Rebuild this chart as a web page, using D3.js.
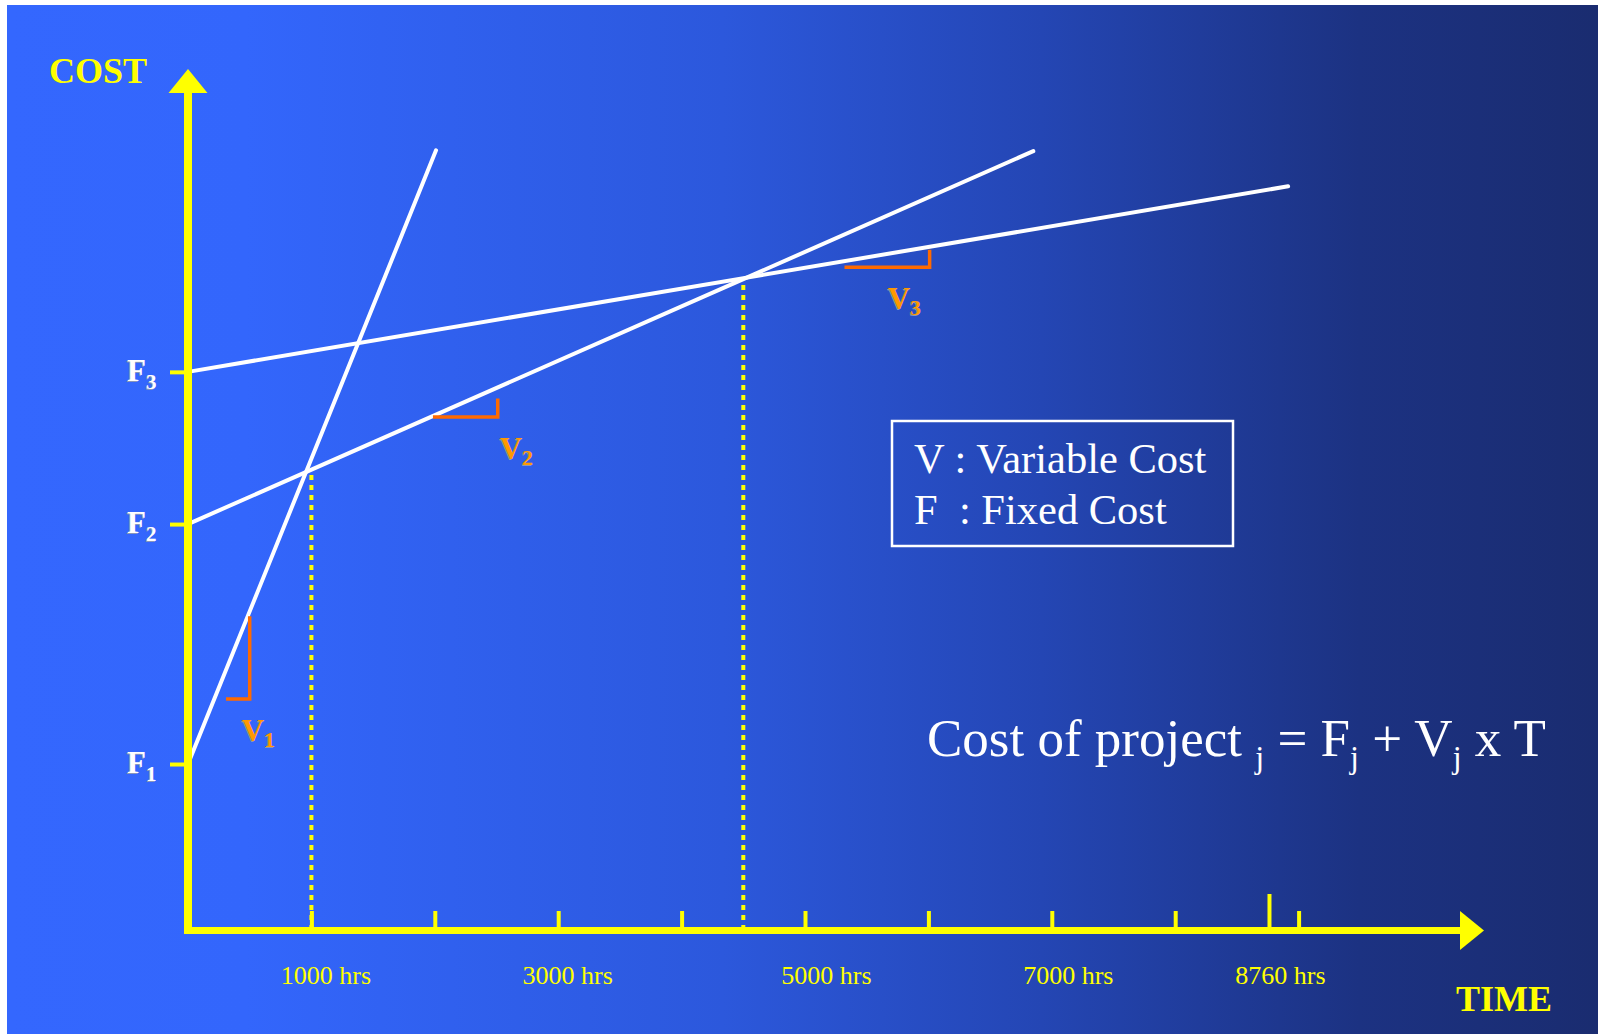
<!DOCTYPE html>
<html>
<head>
<meta charset="utf-8">
<script src="https://cdn.jsdelivr.net/npm/d3@7"></script>
<style>
  html, body { margin: 0; padding: 0; background: #ffffff; }
  svg text { font-family: "Liberation Serif", "Times New Roman", serif; white-space: pre; }
</style>
</head>
<body>
<script>
// fixed cost of each project (cost units) and variable cost (cost units per 1000 hrs)
const projects = ['1', '2', '3'];
const fixedCost = [19.3, 47.2, 64.9];
const variableCost = [35.5, 6.33, 2.42];
const lineEndHrs = [2010, 6850, 8915];

// slope markers, in hrs: level of the horizontal leg (line cost there), start and end of it
const slopeLevelHrs = [213, 1985, 5320];
const slopeStartHrs = [308, 1985, 5320];
const slopeEndHrs = [500, 2510, 6010];

// break-even hours, marked with dotted lines
const breakEvenHrs = [1000, 4500];

const tickHrs = [1000, 2000, 3000, 4000, 5000, 6000, 7000, 8000, 8760, 9000];
const labelHrs = [1000, 3000, 5000, 7000, 8760];
const tickLabels = ['1000 hrs', '3000 hrs', '5000 hrs', '7000 hrs', '8760 hrs'];

let WIDTH = 1598;
let HEIGHT = 1034;

let svg = d3.select('body').append('svg').attr('width', WIDTH).attr('height', HEIGHT);

let grad = svg.append('defs').append('linearGradient').attr('id', 'bg')
  .attr('x1', '0%').attr('x2', '100%').attr('y1', '0%').attr('y2', '0%');
[[0, '#3467fe'], [0.15, '#3366fc'], [0.45, '#2c58dc'], [0.65, '#2446b4'], [0.85, '#1c3282'], [1, '#1a2c70']]
  .forEach(s => grad.append('stop').attr('offset', s[0]).attr('stop-color', s[1]));

svg.append('rect').attr('x', 7).attr('y', 5).attr('width', WIDTH - 7).attr('height', HEIGHT - 5)
  .attr('fill', 'url(#bg)');

let x = d3.scaleLinear().domain([0, 10000]).range([188, 1422]);
let y = d3.scaleLinear().domain([0, 100]).range([930, 70]);

const YELLOW = '#ffff00';
const cost = (i, h) => fixedCost[i] + variableCost[i] * h / 1000;

// x ticks (pointing up)
let xTicks = svg.append('g').attr('transform', 'translate(0,930)')
  .call(d3.axisBottom(x).tickValues(tickHrs).tickSize(-19).tickFormat(''));
xTicks.select('.domain').remove();
xTicks.selectAll('.tick line').attr('stroke', YELLOW).attr('stroke-width', 4)
  .attr('y2', d => d === 8760 ? -36 : -19);

// x labels
const labelDx = [14, 9, 21, 16, 11];
let xLabels = svg.append('g').attr('transform', 'translate(0,930)')
  .call(d3.axisBottom(x).tickValues(labelHrs).tickSize(0).tickPadding(0)
    .tickFormat((d, i) => tickLabels[i]));
xLabels.select('.domain').remove();
xLabels.selectAll('.tick text').attr('fill', YELLOW).attr('font-size', 26)
  .attr('font-family', '"Liberation Serif", "Times New Roman", serif')
  .attr('dy', 0).attr('y', 54).attr('dx', (d, i) => labelDx[i]);

// y ticks at the fixed costs
let yTicks = svg.append('g').attr('transform', 'translate(188,0)')
  .call(d3.axisLeft(y).tickValues(fixedCost).tickSize(18).tickFormat(''));
yTicks.select('.domain').remove();
yTicks.selectAll('.tick line').attr('stroke', YELLOW).attr('stroke-width', 4);

// dotted break-even lines
svg.selectAll('.dotted').data(breakEvenHrs).enter().append('line')
  .attr('x1', d => x(d)).attr('x2', d => x(d))
  .attr('y1', y(0)).attr('y2', d => y(cost(1, d)))
  .attr('stroke', YELLOW).attr('stroke-width', 4).attr('stroke-dasharray', '5,5');

// cost lines
svg.selectAll('.costline').data(projects).enter().append('line')
  .attr('x1', x(0)).attr('y1', (d, i) => y(fixedCost[i]))
  .attr('x2', (d, i) => x(lineEndHrs[i])).attr('y2', (d, i) => y(cost(i, lineEndHrs[i])))
  .attr('stroke', '#ffffff').attr('stroke-width', 4).attr('stroke-linecap', 'round');

// slope markers
const levelShift = [0, 1, 6];
const riseGap = [5, 11, 3];
const slopeLevel = i => y(cost(i, slopeLevelHrs[i])) + levelShift[i];
svg.selectAll('.slope').data(projects).enter().append('path')
  .attr('d', (d, i) => 'M' + x(slopeStartHrs[i]) + ',' + slopeLevel(i) +
    'H' + x(slopeEndHrs[i]) + 'V' + (y(cost(i, slopeEndHrs[i])) + riseGap[i]))
  .attr('fill', 'none').attr('stroke', '#ff6a00').attr('stroke-width', 3.5);

// axes with arrows
svg.append('line').attr('x1', 188).attr('x2', 188).attr('y1', 934).attr('y2', 90)
  .attr('stroke', YELLOW).attr('stroke-width', 8);
svg.append('line').attr('x1', 184).attr('x2', 1462).attr('y1', 930.5).attr('y2', 930.5)
  .attr('stroke', YELLOW).attr('stroke-width', 7);
svg.append('path').attr('d', 'M188,69L168.5,93L207.5,93Z').attr('fill', YELLOW);
svg.append('path').attr('d', 'M1484,930.5L1460,911L1460,950Z').attr('fill', YELLOW);

svg.append('text').attr('x', 49).attr('y', 83).attr('fill', YELLOW)
  .attr('font-size', 36).attr('font-weight', 'bold').text('COST');
svg.append('text').attr('x', 1456).attr('y', 1011).attr('fill', YELLOW)
  .attr('font-size', 36).attr('font-weight', 'bold').text('TIME');

// label with subscript and a small shadow
function subLabel(px, py, main, sub, color, size, subSize, subDy) {
  [['#8a96b8', -1, 1.2], [color, 0, 0]].forEach(s => {
    let t = svg.append('text').attr('x', px + s[1]).attr('y', py + s[2])
      .attr('fill', s[0]).attr('font-weight', 'bold').attr('font-size', size);
    t.append('tspan').text(main);
    t.append('tspan').attr('dy', subDy).attr('font-size', subSize).text(sub);
  });
}

fixedCost.forEach((f, i) => subLabel(127, y(f) + 9, 'F', projects[i], '#ffffff', 31, 21, 8));

const slopeLabelDx = [-8, 2, -42];
projects.forEach((p, i) => {
  subLabel(x(slopeEndHrs[i]) + slopeLabelDx[i], slopeLevel(i) + 42, 'V', p, '#ff9900', 31, 22, 6);
});

// legend box
svg.append('rect').attr('x', 892).attr('y', 421).attr('width', 341).attr('height', 125)
  .attr('fill', 'none').attr('stroke', '#ffffff').attr('stroke-width', 2.5);
svg.append('text').attr('x', 914).attr('y', 473).attr('fill', '#ffffff').attr('font-size', 42.5)
  .text('V : Variable Cost');
svg.append('text').attr('x', 914).attr('y', 524).attr('fill', '#ffffff').attr('font-size', 42.5)
  .text('F  : Fixed Cost');

// formula
let fml = svg.append('text').attr('x', 927).attr('y', 756).attr('fill', '#ffffff').attr('font-size', 53);
fml.append('tspan').text('Cost of project ');
fml.append('tspan').attr('dy', 12).attr('font-size', 32).text('j');
fml.append('tspan').attr('dy', -12).text(' = F');
fml.append('tspan').attr('dy', 12).attr('font-size', 32).text('j');
fml.append('tspan').attr('dy', -12).text(' + V');
fml.append('tspan').attr('dy', 12).attr('font-size', 32).text('j');
fml.append('tspan').attr('dy', -12).text(' x T');
</script>
</body>
</html>
